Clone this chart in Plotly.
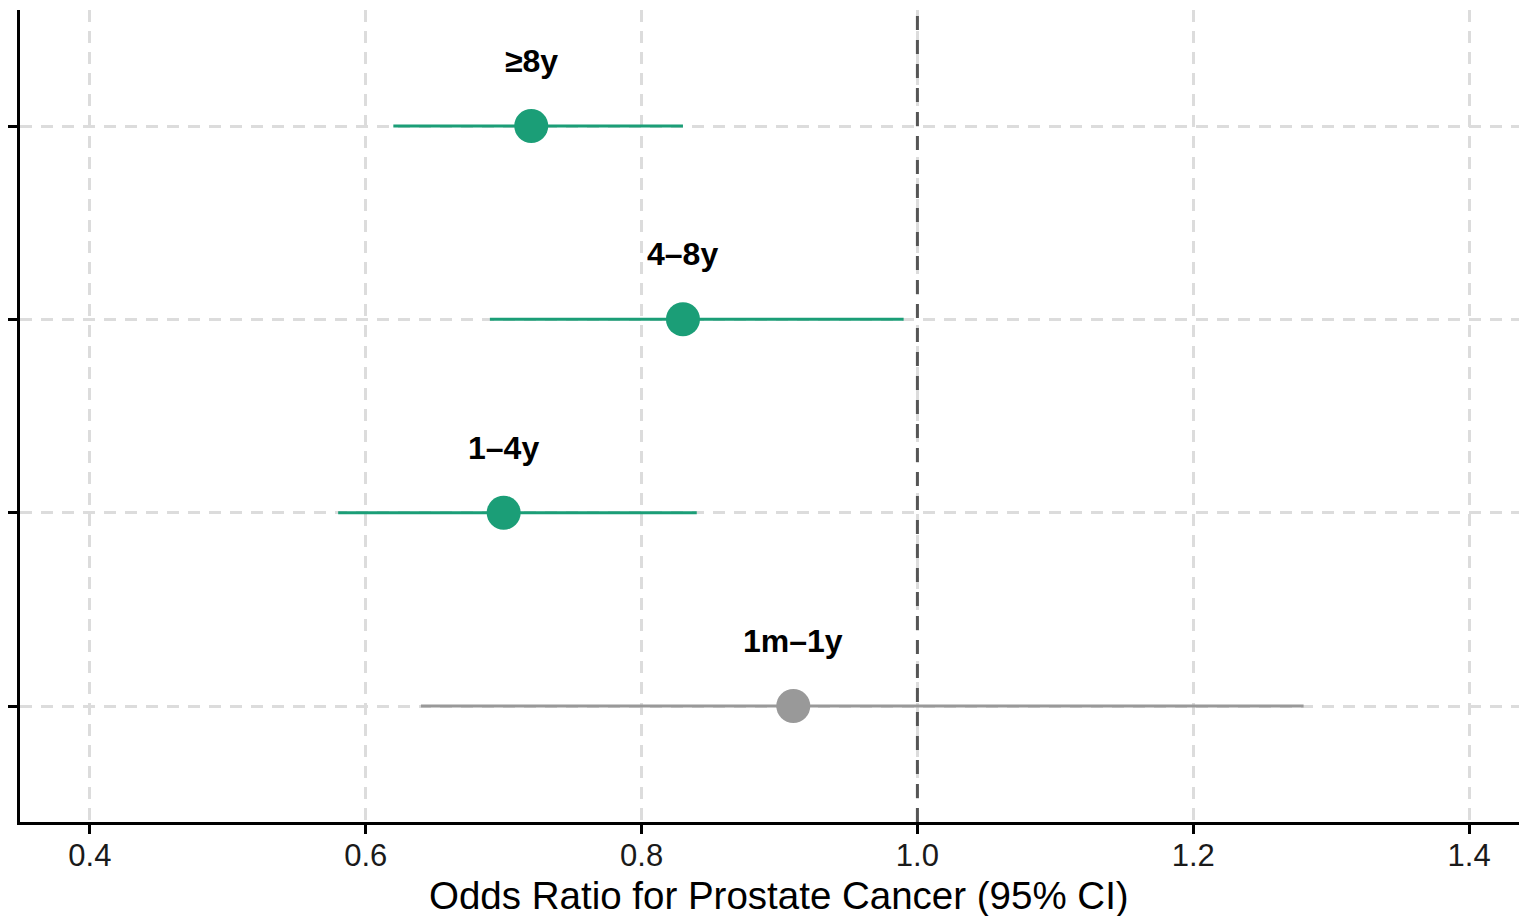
import plotly.graph_objects as go

categories = ["1m–1y", "1–4y", "4–8y", "≥8y"]
odds_ratio = [0.91, 0.70, 0.83, 0.72]
ci_low = [0.64, 0.58, 0.69, 0.62]
ci_high = [1.28, 0.84, 0.99, 0.83]
significant = [False, True, True, True]
x_ticks = [0.4, 0.6, 0.8, 1.0, 1.2, 1.4]
x_tick_labels = ["0.4", "0.6", "0.8", "1.0", "1.2", "1.4"]
ref_value = 1.0
x_title = "Odds Ratio for Prostate Cancer (95% CI)"

GREEN = "#1b9e77"
GRAY = "#999999"
FONT = "Liberation Sans, Arial, sans-serif"

fig = go.Figure()

for cat, o, lo, hi, sig in zip(categories, odds_ratio, ci_low, ci_high, significant):
    col = GREEN if sig else GRAY
    fig.add_trace(go.Scatter(
        x=[lo, hi], y=[cat, cat], mode="lines",
        line=dict(color=col, width=3), showlegend=False, hoverinfo="skip"))
    fig.add_trace(go.Scatter(
        x=[o], y=[cat], mode="markers",
        marker=dict(color=col, size=34, line=dict(width=0)), showlegend=False))
    fig.add_annotation(
        x=o, y=cat, text="<b>%s</b>" % cat, showarrow=False, yshift=65,
        font=dict(family=FONT, size=32, color="#000000"),
        xanchor="center", yanchor="middle")

fig.add_shape(
    type="line", xref="x", yref="paper", x0=ref_value, x1=ref_value, y0=0, y1=1,
    line=dict(color="#555555", width=3, dash="14px,10px"), layer="above")

# axis title, centred on the (wider, cropped) panel as in the reference
fig.add_annotation(
    xref="paper", yref="paper", x=0.5063, y=0, yshift=-73,
    text=x_title, showarrow=False, xanchor="center", yanchor="middle",
    font=dict(family=FONT, size=38.5, color="#000000"))

fig.update_layout(
    width=1519, height=916,
    margin=dict(l=20, r=0, t=10, b=94),
    plot_bgcolor="white", paper_bgcolor="white",
    font=dict(family=FONT, color="#000000"),
    xaxis=dict(
        range=[0.3493, 1.4362], tickvals=x_ticks, ticktext=x_tick_labels,
        showgrid=True, gridcolor="#dcdcdc", gridwidth=2.5, griddash="12px,9px",
        showline=True, linecolor="#000000", linewidth=2.5,
        ticks="outside", ticklen=9, tickwidth=2.5, tickcolor="#000000",
        ticklabelstandoff=-5,
        tickfont=dict(size=31, color="#1a1a1a"), zeroline=False),
    yaxis=dict(
        type="category", categoryorder="array", categoryarray=categories,
        range=[-0.6, 3.6], showticklabels=False,
        showgrid=True, gridcolor="#dcdcdc", gridwidth=2.5, griddash="12px,9px",
        showline=True, linecolor="#000000", linewidth=2.5,
        ticks="outside", ticklen=9, tickwidth=2.5, tickcolor="#000000",
        zeroline=False),
)

fig.write_html("out.html")
